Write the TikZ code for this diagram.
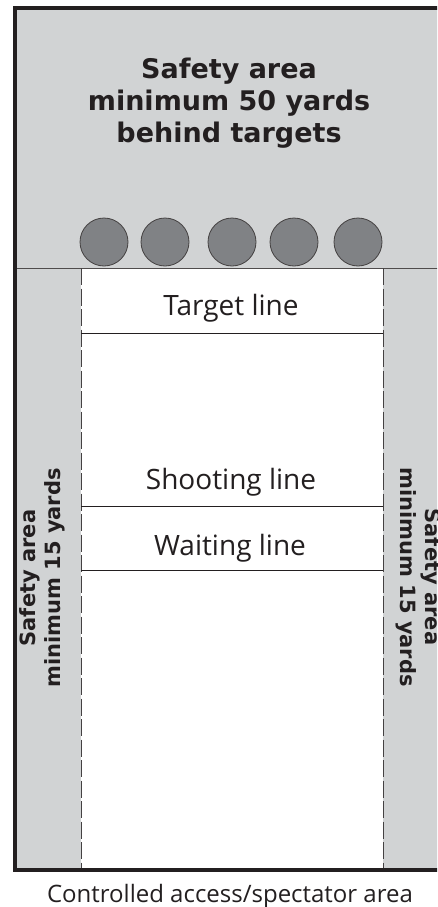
\documentclass[tikz,border=0pt]{standalone}
\usepackage{fontspec}
\setmainfont{Open Sans}
\newfontfamily\heavyfont{DejaVu Sans}
\usetikzlibrary{calc}

\definecolor{areagray}{HTML}{D1D3D4}
\definecolor{targetgray}{HTML}{808285}
\definecolor{ink}{HTML}{231F20}

\begin{document}
\begin{tikzpicture}[x=1pt,y=-1pt,
    lbl/.style={text=ink,inner sep=0pt,align=center,font=\fontsize{28}{32}\selectfont},
    side/.style={text=ink,inner sep=0pt,align=center,font=\heavyfont\bfseries\fontsize{21}{25}\selectfont},
    rangeline/.style={ink,line width=0.9pt}]
	\useasboundingbox (0,0) rectangle (437,907);
	\begin{scope}
	\clip (0,0) rectangle (437,907);
	\fill[areagray] (15,8) rectangle (450,870);
	\fill[white] (81,268) rectangle (383,870);
	\draw[ink!80,line width=1pt] (15,268) -- (450,268);
	\draw[ink!85,line width=1pt,dash pattern=on 17pt off 3.5pt] (81,268) -- (81,870);
	\draw[ink!85,line width=1pt,dash pattern=on 17pt off 3.5pt] (383,268) -- (383,870);
	\draw[rangeline] (81,333) -- (383,333);
	\draw[rangeline] (81,506) -- (383,506);
	\draw[rangeline] (81,570) -- (383,570);
	\foreach \x in {104,165,232,294,358}
	    \draw[fill=targetgray,draw=ink!85,line width=0.8pt] (\x,242) circle(24);
	\draw[ink,line width=3.5pt] (450,8) -- (15,8) -- (15,870) -- (450,870);
	\node[side,rotate=90] (lsafe) at (42,578) {Safety area\\minimum 15 yards};
	\node[side,rotate=-90] (rsafe) at (419,577) {Safety area\\minimum 15 yards};
	\end{scope}
	\node[lbl,font=\heavyfont\bfseries\fontsize{27}{32}\selectfont] (back) at (229,103) {Safety area\\minimum 50 yards\\behind targets};
	\node[lbl] (tline) at (231,308) {Target line};
	\node[lbl] (sline) at (231,482) {Shooting line};
	\node[lbl] (wline) at (230,548) {Waiting line};
	\node[lbl,font=\fontsize{24}{28}\selectfont] (spect) at (230,896) {Controlled access/spectator area};
\end{tikzpicture}
\end{document}
